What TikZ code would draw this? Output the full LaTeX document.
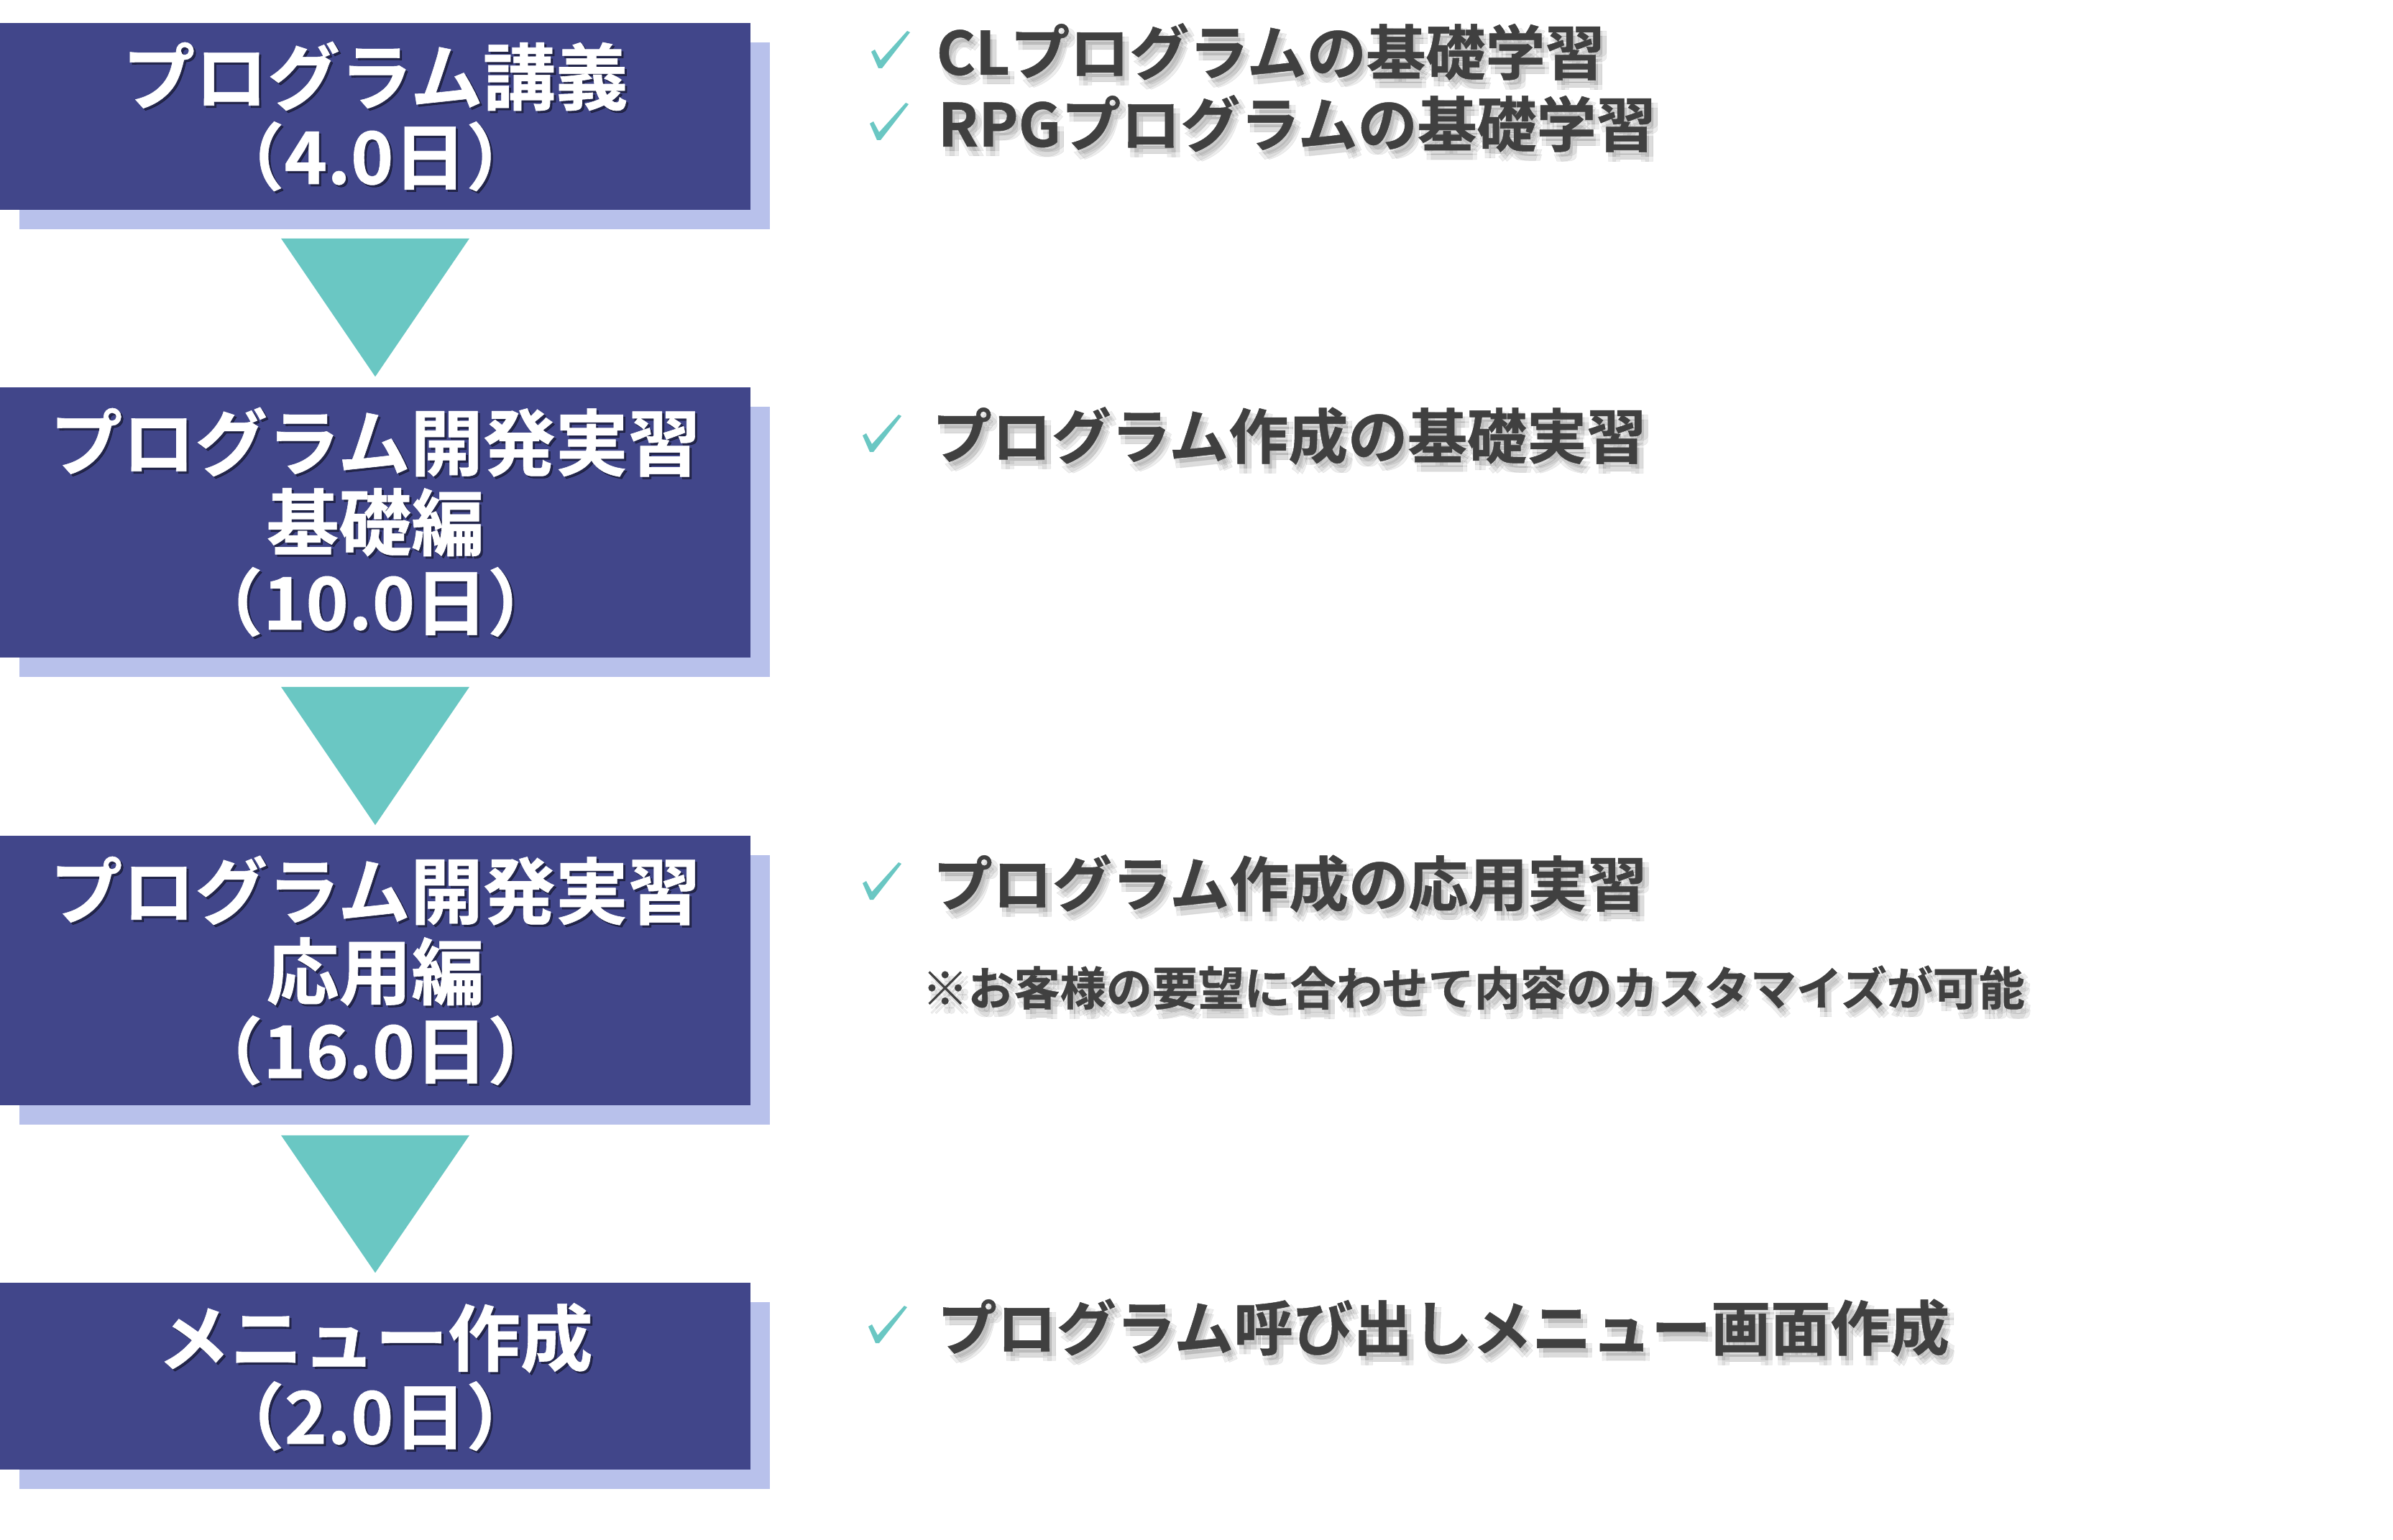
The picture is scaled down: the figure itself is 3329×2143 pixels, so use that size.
\documentclass[tikz,border=0pt]{standalone}
\usepackage{fontspec}
\setmainfont{Noto Sans CJK JP}[BoldFont={* Bold}, BoldFeatures={FakeBold=0.6}]
\usetikzlibrary{calc}
\definecolor{boxblue}{RGB}{65,70,138}
\definecolor{boxshade}{RGB}{184,193,235}
\definecolor{tealtri}{RGB}{106,199,195}
\definecolor{txtgray}{RGB}{64,64,64}
\tikzset{
  stepbox/.style={fill=boxblue, draw=none, inner sep=0, minimum width=10.44cm},
  shadebox/.style={fill=boxshade, draw=none, inner sep=0, minimum width=10.44cm},
  boxtxt/.style={anchor=base, inner sep=0, text=white, font=\fontsize{28.7pt}{31.6pt}\selectfont\bfseries},
  rtxt/.style={anchor=base west, inner sep=0, text=txtgray, font=\fontsize{23.6pt}{26pt}\selectfont\bfseries},
  ntxt/.style={anchor=base west, inner sep=0, text=txtgray, font=\fontsize{18.2pt}{20pt}\selectfont\bfseries},
  tri/.style={fill=tealtri, draw=none},
  chk/.pic={\fill[tealtri] (0,29) -- (5,26) -- (13,41) -- (50,0) -- (54,2) -- (15,52) -- (10,52) -- cycle;}
}
\newcommand\mkboxline[3]{%
  \node[boxtxt, text=black, opacity=0.45] at (525,#2+3) {#3};
  \node[boxtxt] (#1) at (522,#2) {#3};}
\newcommand\mkrline[5]{%
  \foreach \dx/\dy in {3/6,9/6,3/13,9/13}
    \node[#5, text=black, opacity=0.07] at (#2+\dx,#3+\dy) {#4};
  \node[#5] (#1) at (#2,#3) {#4};}
\begin{document}
\begin{tikzpicture}[x=0.01cm, y=-0.01cm]
\useasboundingbox (0,0) rectangle (3329,2143);
% shadows of boxes
\node[shadebox, minimum height=2.6cm]  (s1) at (549,189) {};
\node[shadebox, minimum height=3.76cm] (s2) at (549,754) {};
\node[shadebox, minimum height=3.75cm] (s3) at (549,1377.5) {};
\node[shadebox, minimum height=2.6cm]  (s4) at (549,1942) {};
% boxes
\node[stepbox, minimum height=2.6cm]  (b1) at (522,162) {};
\node[stepbox, minimum height=3.76cm] (b2) at (522,727) {};
\node[stepbox, minimum height=3.75cm] (b3) at (522,1350.5) {};
\node[stepbox, minimum height=2.6cm]  (b4) at (522,1915) {};
% triangles between boxes
\fill[tri] ($(b1.south)+(-131,39)$) -- ($(b1.south)+(131,39)$) -- ($(b2.north)+(0,-14)$) -- cycle;
\fill[tri] ($(b2.south)+(-131,40)$) -- ($(b2.south)+(131,40)$) -- ($(b3.north)+(0,-14)$) -- cycle;
\fill[tri] ($(b3.south)+(-131,41)$) -- ($(b3.south)+(131,41)$) -- ($(b4.north)+(0,-13)$) -- cycle;
% box texts
\mkboxline{t11}{145}{プログラム講義}
\mkboxline{t12}{256}{（4.0日）}
\mkboxline{t21}{654}{プログラム開発実習}
\mkboxline{t22}{765}{基礎編}
\mkboxline{t23}{876}{（10.0日）}
\mkboxline{t31}{1278}{プログラム開発実習}
\mkboxline{t32}{1390}{応用編}
\mkboxline{t33}{1500}{（16.0日）}
\mkboxline{t41}{1900}{メニュー作成}
\mkboxline{t42}{2009}{（2.0日）}
% check marks
\pic at (1212,43) {chk};
\pic at (1210,143) {chk};
\pic at (1200,577) {chk};
\pic at (1200,1200) {chk};
\pic at (1208,1817) {chk};
% right texts
\mkrline{r1}{1302}{104}{CLプログラムの基礎学習}{rtxt}
\mkrline{r2}{1304}{204}{RPGプログラムの基礎学習}{rtxt}
\mkrline{r3}{1296}{638}{プログラム作成の基礎実習}{rtxt}
\mkrline{r4}{1297}{1261}{プログラム作成の応用実習}{rtxt}
\mkrline{r5}{1282}{1399}{※お客様の要望に合わせて内容のカスタマイズが可能}{ntxt}
\mkrline{r6}{1303}{1879}{プログラム呼び出しメニュー画面作成}{rtxt}
\end{tikzpicture}
\end{document}
